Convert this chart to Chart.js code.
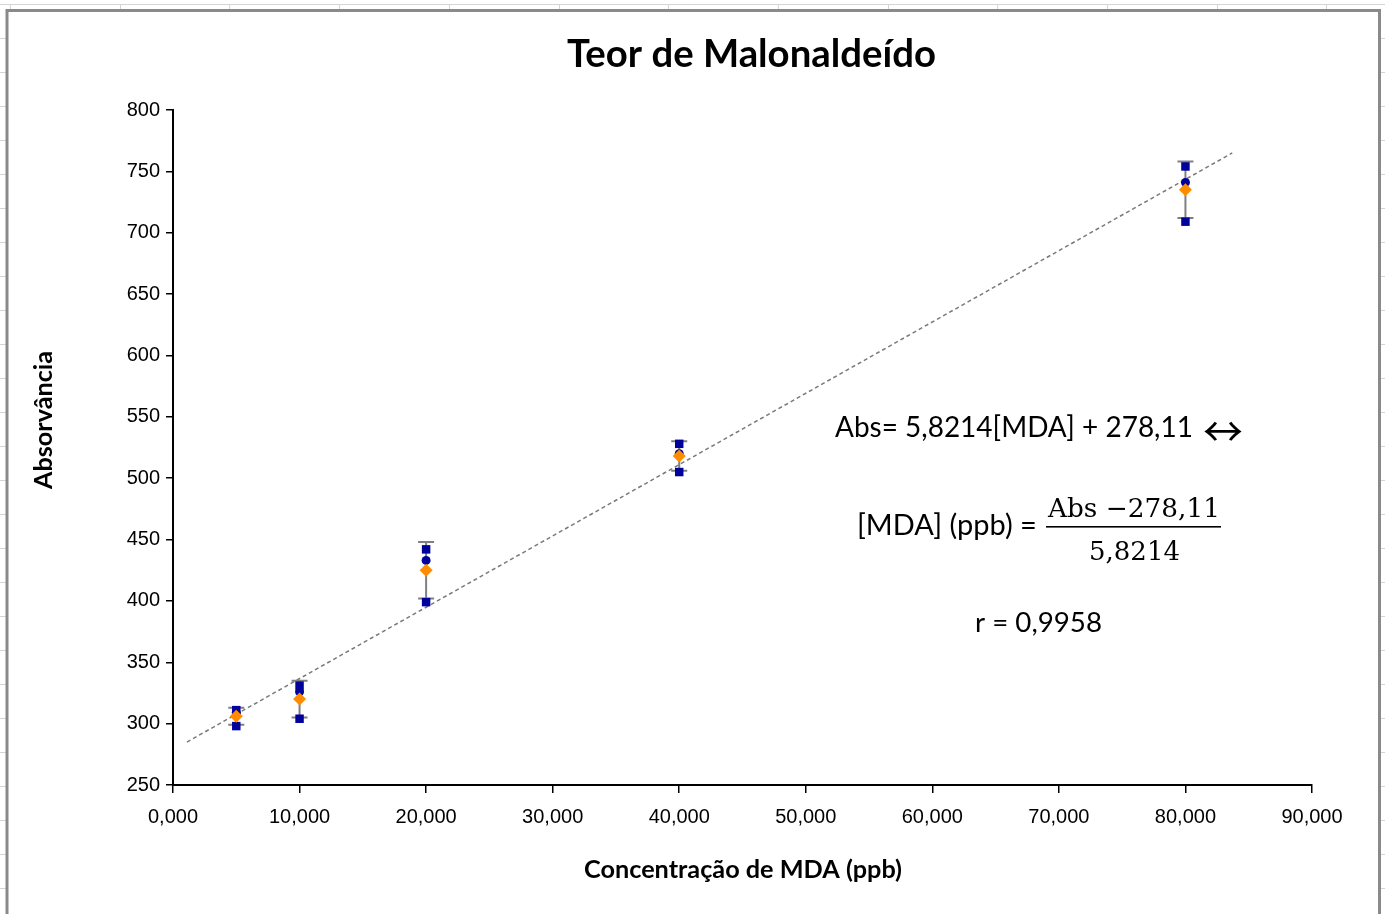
<!DOCTYPE html>
<html>
<head>
<meta charset="utf-8">
<script src="https://cdn.jsdelivr.net/npm/chart.js@4.4.1/dist/chart.umd.min.js"></script>
<style>
  html, body { margin: 0; padding: 0; background: #fff; }
  #wrap { position: relative; width: 1385px; height: 914px; }
</style>
</head>
<body>
<div id="wrap"><canvas id="grafico"></canvas></div>
<script>
// dados
const concentracoes = [5, 10, 20, 40, 80];
const replicata1 = [311, 331, 442, 528, 754];
const replicata2 = [309, 326, 433, 520, 741];
const replicata3 = [298, 304, 399, 505, 709];
const medias = [306, 320, 425, 518, 735];
const desvios = [7, 15, 23, 12, 23];
const tendenciaX = [1.1, 83.7];
const tendenciaY = [285, 765];
const xTickLabels = ['0,000', '10,000', '20,000', '30,000', '40,000', '50,000', '60,000', '70,000', '80,000', '90,000'];
const yTickLabels = ['250', '300', '350', '400', '450', '500', '550', '600', '650', '700', '750', '800'];

const AZUL = '#00009c';
const LARANJA = '#ff8c00';
const CINZA = '#808080';

const pts = (ys) => concentracoes.map((x, i) => ({x: x, y: ys[i]}));

// texto ajustado a uma largura
function texto(ctx, txt, family, weight, left, right, baseline) {
  ctx.font = weight + ' 40px "' + family + '"';
  const w = ctx.measureText(txt).width;
  const size = 40 * (right - left) / w;
  ctx.font = weight + ' ' + size.toFixed(2) + 'px "' + family + '"';
  ctx.textAlign = 'left';
  ctx.textBaseline = 'alphabetic';
  ctx.fillText(txt, left, baseline);
}

const moldura = {
  id: 'moldura',
  beforeDraw(chart) {
    const ctx = chart.ctx;
    ctx.save();
    ctx.fillStyle = '#fff';
    ctx.fillRect(0, 0, 1385, 914);
    // linhas da planilha
    ctx.strokeStyle = '#d4d4d4';
    ctx.lineWidth = 1;
    ctx.beginPath();
    ctx.moveTo(0, 4.5); ctx.lineTo(1385, 4.5);
    for (let x = 10; x < 1385; x += 109.7) {
      ctx.moveTo(Math.round(x) + 0.5, 4); ctx.lineTo(Math.round(x) + 0.5, 10);
    }
    for (let y = 38; y < 914; y += 34) {
      ctx.moveTo(0, y + 0.5); ctx.lineTo(6, y + 0.5);
      ctx.moveTo(1381, y + 0.5); ctx.lineTo(1385, y + 0.5);
    }
    ctx.stroke();
    // borda do gráfico
    ctx.strokeStyle = '#8a8a8a';
    ctx.lineWidth = 3;
    ctx.beginPath();
    ctx.moveTo(7, 920); ctx.lineTo(7, 10.5); ctx.lineTo(1379.5, 10.5); ctx.lineTo(1379.5, 920);
    ctx.stroke();
    ctx.restore();
  },
  afterDraw(chart) {
    const ctx = chart.ctx;
    ctx.save();
    ctx.fillStyle = '#000';
    texto(ctx, 'Teor de Malonaldeído', 'Lato', 'bold', 567, 936, 67);
    texto(ctx, 'Concentração de MDA (ppb)', 'Lato', 'bold', 584, 902, 878);
    ctx.save();
    ctx.translate(52, 489);
    ctx.rotate(-Math.PI / 2);
    texto(ctx, 'Absorvância', 'Lato', 'bold', 0, 138, 0);
    ctx.restore();
    texto(ctx, 'Abs= 5,8214[MDA] + 278,11', 'Lato', 'normal', 835, 1193, 437);
    texto(ctx, '↔', 'Noto Sans CJK JP', 'normal', 1203, 1243, 446);
    texto(ctx, '[MDA] (ppb) =', 'Lato', 'normal', 857, 1037, 535);
    texto(ctx, 'Abs −278,11', 'DejaVu Serif', 'normal', 1048, 1220, 517);
    ctx.fillRect(1046, 526, 175, 1.6);
    texto(ctx, '5,8214', 'DejaVu Serif', 'normal', 1089, 1180, 560);
    texto(ctx, 'r = 0,9958', 'Lato', 'normal', 975, 1102, 632);
    ctx.restore();
  }
};

const barrasErro = {
  id: 'barrasErro',
  beforeDatasetsDraw(chart) {
    const ctx = chart.ctx;
    const xs = chart.scales.x, ys = chart.scales.y;
    ctx.save();
    ctx.strokeStyle = CINZA;
    ctx.lineWidth = 2;
    concentracoes.forEach((c, i) => {
      const px = xs.getPixelForValue(c);
      const top = ys.getPixelForValue(medias[i] + desvios[i]);
      const bot = ys.getPixelForValue(medias[i] - desvios[i]);
      ctx.beginPath();
      ctx.moveTo(px, top); ctx.lineTo(px, bot);
      ctx.moveTo(px - 8, top); ctx.lineTo(px + 8, top);
      ctx.moveTo(px - 8, bot); ctx.lineTo(px + 8, bot);
      ctx.stroke();
    });
    ctx.restore();
  }
};

new Chart(document.getElementById('grafico'), {
  type: 'scatter',
  data: {
    datasets: [
      {
        label: 'Tendência',
        type: 'line',
        data: tendenciaX.map((x, i) => ({x: x, y: tendenciaY[i]})),
        borderColor: '#7a7a7a',
        borderWidth: 1.5,
        borderDash: [4, 3],
        pointRadius: 0,
        fill: false,
        order: 4
      },
      { label: 'Replicata 1', data: pts(replicata1), pointStyle: 'rect', pointRadius: 6,
        backgroundColor: AZUL, borderColor: AZUL, borderWidth: 0, order: 3 },
      { label: 'Replicata 2', data: pts(replicata2), pointStyle: 'circle', pointRadius: 4.5,
        backgroundColor: AZUL, borderColor: AZUL, borderWidth: 0, order: 3 },
      { label: 'Replicata 3', data: pts(replicata3), pointStyle: 'rect', pointRadius: 6,
        backgroundColor: AZUL, borderColor: AZUL, borderWidth: 0, order: 3 },
      { label: 'Média', data: pts(medias), pointStyle: 'rectRot', pointRadius: 6.5,
        backgroundColor: LARANJA, borderColor: LARANJA, borderWidth: 0, order: 1 }
    ]
  },
  options: {
    responsive: true,
    maintainAspectRatio: false,
    animation: false,
    layout: { padding: { top: 110, right: 73, bottom: 0, left: 0 } },
    plugins: { legend: { display: false }, tooltip: { enabled: false } },
    scales: {
      x: {
        type: 'linear', min: 0, max: 90,
        afterFit: (s) => { s.height = 129; },
        border: { color: '#000', width: 2 },
        grid: { drawOnChartArea: false, tickLength: 8, color: '#000', lineWidth: 1.5 },
        ticks: {
          stepSize: 10, padding: 12, color: '#000',
          font: { family: 'Liberation Sans', size: 20 },
          callback: (v) => xTickLabels[Math.round(v / 10)]
        }
      },
      y: {
        type: 'linear', min: 250, max: 800,
        afterFit: (s) => { s.width = 173; },
        border: { color: '#000', width: 2 },
        grid: { drawOnChartArea: false, tickLength: 7, color: '#000', lineWidth: 1.5 },
        ticks: {
          stepSize: 50, padding: 6, color: '#000',
          font: { family: 'Liberation Sans', size: 20 },
          callback: (v) => yTickLabels[Math.round((v - 250) / 50)]
        }
      }
    }
  },
  plugins: [moldura, barrasErro]
});
</script>
</body>
</html>
